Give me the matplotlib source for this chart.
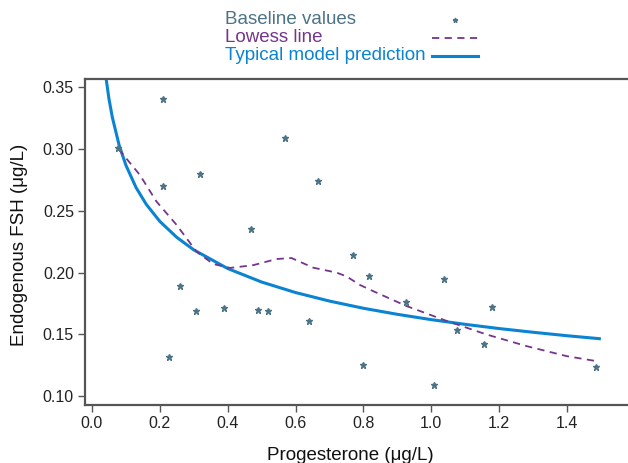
import matplotlib
matplotlib.use("Agg")
import matplotlib.pyplot as plt
from matplotlib.lines import Line2D

plt.rcParams['font.family'] = ['Liberation Sans', 'DejaVu Sans']

# Baseline values (scatter)
base_x = [0.208, 0.078, 0.568, 0.318, 0.208, 0.667, 0.469, 0.768, 0.258, 0.307,
          0.388, 0.488, 0.518, 0.639, 0.228, 0.818, 1.037, 0.927, 1.178, 1.077,
          1.157, 0.798, 1.008, 1.486]
base_y = [0.340, 0.301, 0.309, 0.280, 0.270, 0.274, 0.235, 0.214, 0.189, 0.169,
          0.1715, 0.170, 0.169, 0.1605, 0.132, 0.1976, 0.195, 0.1764, 0.172, 0.1538,
          0.1425, 0.125, 0.109, 0.124]

# Lowess line
low_x = [0.078, 0.141, 0.19, 0.249, 0.308, 0.357, 0.407, 0.475, 0.544, 0.588,
         0.652, 0.721, 0.75, 0.79, 0.829, 0.927, 1.045, 1.163, 1.281, 1.399, 1.486]
low_y = [0.300, 0.279, 0.2575, 0.2387, 0.217, 0.207, 0.2038, 0.206, 0.211, 0.2118,
         0.204, 0.200, 0.197, 0.190, 0.185, 0.173, 0.161, 0.150, 0.1406, 0.1325, 0.1285]

# Typical model prediction
mod_x = [0.04, 0.05, 0.06, 0.08, 0.10, 0.13, 0.16, 0.20, 0.25, 0.30, 0.40, 0.50,
         0.60, 0.70, 0.80, 0.90, 1.00, 1.10, 1.20, 1.30, 1.40, 1.50]
mod_y = [0.360, 0.3405, 0.3255, 0.303, 0.2868, 0.2687, 0.2552, 0.2414, 0.2285, 0.2184,
         0.2033, 0.1924, 0.1839, 0.177, 0.1712, 0.1663, 0.162, 0.1582, 0.1548, 0.1518,
         0.1490, 0.1465]

x_ticks = [0.0, 0.2, 0.4, 0.6, 0.8, 1.0, 1.2, 1.4]
y_ticks = [0.10, 0.15, 0.20, 0.25, 0.30, 0.35]
labels = ['Baseline values', 'Lowess line', 'Typical model prediction']

c_base = '#4d7387'
c_low = '#74368a'
c_mod = '#0a84d2'
c_spine = '#555555'

W, H = 628, 463
fig = plt.figure(figsize=(W / 100, H / 100), dpi=100)
ax = fig.add_axes([85 / W, 58 / H, 1 - 85 / W, (405 - 79) / H])

ax.plot(mod_x, mod_y, color=c_mod, lw=2.2, solid_capstyle='butt')
ax.plot(low_x, low_y, color=c_low, lw=1.3, ls=(0, (4, 3)))
ax.plot(base_x, base_y, ls='none', marker='*', ms=5, color=c_base, mec=c_base)

ax.set_xlim(-0.0206, 1.58)
ax.set_ylim(0.093, 0.3565)
ax.set_xticks(x_ticks)
ax.set_xticklabels([f"{v:.1f}" for v in x_ticks])
ax.set_yticks(y_ticks)
ax.set_yticklabels([f"{v:.2f}" for v in y_ticks])

for s in ['left', 'bottom', 'top']:
    ax.spines[s].set_color(c_spine)
    ax.spines[s].set_linewidth(1.6)
ax.spines['right'].set_visible(False)
ax.tick_params(direction='out', length=5, width=1, color=c_spine, labelsize=11.5,
               labelcolor='#222222', pad=3)

ax.set_xlabel('Progesterone (μg/L)', fontsize=13.5, color='#111111')
ax.xaxis.set_label_coords((350 - 85) / (W - 85), -0.13)
ax.set_ylabel('Endogenous FSH (μg/L)', fontsize=13.5, color='#111111')
ax.yaxis.set_label_coords(-0.105, 0.49)

# Manual legend: text left-aligned, handles to the right
rows_y = [20, 38, 56]
colors = [c_base, c_low, c_mod]
for lab, yy, col in zip(labels, rows_y, colors):
    fig.text(225 / W, 1 - yy / H, lab, color=col, fontsize=13.5, ha='left', va='center')
fig.add_artist(Line2D([455 / W], [1 - rows_y[0] / H], transform=fig.transFigure,
                      ls='none', marker='*', ms=3.5, color=c_base))
fig.add_artist(Line2D([432 / W, 478 / W], [1 - rows_y[1] / H] * 2, transform=fig.transFigure,
                      color=c_low, lw=1.3, ls=(0, (4, 3))))
fig.add_artist(Line2D([432 / W, 478 / W], [1 - rows_y[2] / H] * 2, transform=fig.transFigure,
                      color=c_mod, lw=2.2))

fig.savefig('out.png', dpi=100)
